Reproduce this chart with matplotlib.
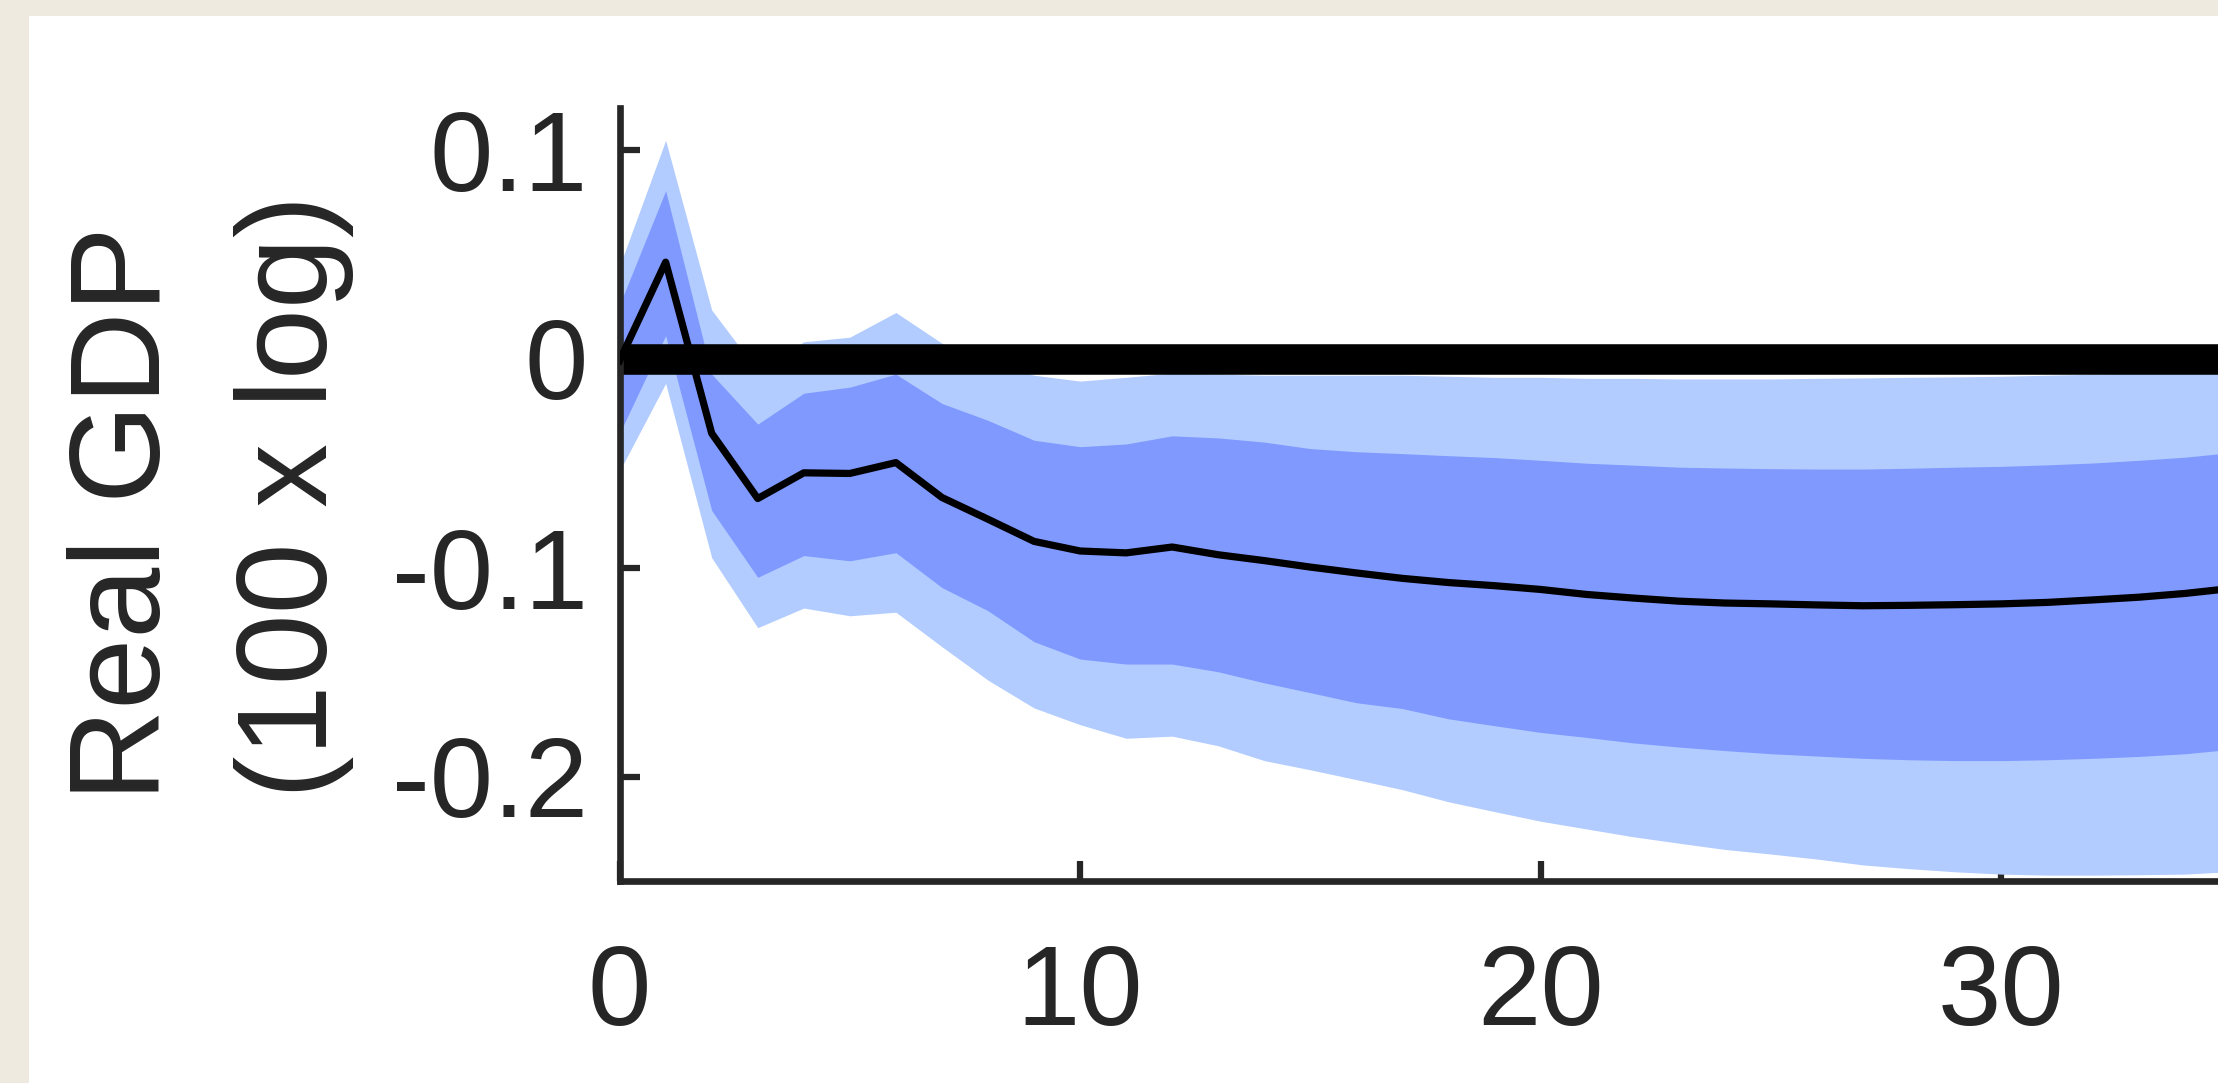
import matplotlib
matplotlib.use("Agg")
import matplotlib.pyplot as plt
from matplotlib.patches import Rectangle

# ---------------- data ----------------
horizon = list(range(36))
median = [-0.001, 0.0461, -0.0358, -0.067, -0.0547, -0.055, -0.0498, -0.0665, -0.0769, -0.0875,
          -0.0921, -0.093, -0.0902, -0.0939, -0.0967, -0.0998, -0.1026, -0.1052, -0.1072, -0.1087,
          -0.1105, -0.1129, -0.1146, -0.1161, -0.117, -0.1174, -0.1179, -0.1183, -0.1181, -0.1178,
          -0.1174, -0.1167, -0.1155, -0.1142, -0.1124, -0.1100]
upper_inner = [0.0257, 0.0803, -0.0075, -0.0314, -0.0166, -0.0137, -0.0075, -0.0215, -0.0296, -0.0391,
               -0.0422, -0.0409, -0.037, -0.038, -0.040, -0.0431, -0.0446, -0.0455, -0.0465, -0.0474,
               -0.0487, -0.0501, -0.051, -0.052, -0.0524, -0.0527, -0.0529, -0.0529, -0.0525, -0.052,
               -0.0516, -0.0509, -0.050, -0.0487, -0.0472, -0.045]
lower_inner = [-0.0358, 0.0109, -0.0727, -0.1047, -0.0943, -0.0968, -0.0929, -0.1096, -0.1207, -0.1355,
               -0.1438, -0.1462, -0.1462, -0.1499, -0.1552, -0.1599, -0.1647, -0.1675, -0.1724, -0.1757,
               -0.1789, -0.1813, -0.1839, -0.1859, -0.1876, -0.1891, -0.1902, -0.1913, -0.192, -0.1924,
               -0.1924, -0.192, -0.1913, -0.1904, -0.1891, -0.187]
upper_outer = [0.0442, 0.1044, 0.0232, -0.006, 0.008, 0.0102, 0.022, 0.0073, -0.002, -0.008,
               -0.0108, -0.009, -0.007, -0.0075, -0.008, -0.008, -0.008, -0.008, -0.0085, -0.009,
               -0.009, -0.0095, -0.0095, -0.0098, -0.0098, -0.0098, -0.0095, -0.0093, -0.009, -0.0088,
               -0.0085, -0.008, -0.0075, -0.007, -0.0065, -0.006]
lower_outer = [-0.0538, -0.0119, -0.0953, -0.1288, -0.1194, -0.1231, -0.1214, -0.1379, -0.1539, -0.1672,
               -0.1752, -0.1817, -0.1807, -0.1853, -0.1924, -0.1968, -0.2015, -0.2063, -0.2121, -0.2168,
               -0.2214, -0.2251, -0.2288, -0.2319, -0.2349, -0.2371, -0.2395, -0.2423, -0.2441, -0.2456,
               -0.2467, -0.2472, -0.2472, -0.247, -0.2467, -0.2455]

xticks = [0, 10, 20, 30]
xticklabels = ["0", "10", "20", "30"]
yticks = [-0.2, -0.1, 0, 0.1]
yticklabels = ["-0.2", "-0.1", "0", "0.1"]
ylabel_line1 = "Real GDP"
ylabel_line2 = "(100 x log)"

# ---------------- style ----------------
W, H = 2218, 1083
FONT = ["Liberation Sans", "DejaVu Sans"]
TXT = "#262626"
LIGHT = "#B2CCFF"
DARK = "#8099FF"

fig = plt.figure(figsize=(W / 100, H / 100), dpi=100)
fig.patch.set_facecolor("#EEEAE0")
fig.add_artist(Rectangle((29 / W, 0), 1, 1 - 16 / H, transform=fig.transFigure,
                         facecolor="white", edgecolor="none", zorder=-5))

x0 = 619.6
ppu = 46.05
y_bottom = 881.0
y_top = 107.7
ax = fig.add_axes([x0 / W, (H - y_bottom) / H, 40 * ppu / W, (y_bottom - y_top) / H])
ax.set_facecolor("none")

ax.fill_between(horizon, lower_outer, upper_outer, color=LIGHT, lw=0, zorder=1)
ax.fill_between(horizon, lower_inner, upper_inner, color=DARK, lw=0, zorder=1.1)
ax.axhline(0, color="black", lw=22, zorder=2, solid_capstyle="butt")
ax.plot(horizon, median, color="black", lw=5.2, zorder=3)

ax.set_xlim(0, 40)
ax.set_ylim(-0.25, 0.12)
ax.set_axisbelow(True)

for s in ("top", "right"):
    ax.spines[s].set_visible(False)
for s in ("left", "bottom"):
    ax.spines[s].set_linewidth(4.8)
    ax.spines[s].set_color(TXT)

ax.set_xticks(xticks)
ax.set_xticklabels(xticklabels)
ax.set_yticks(yticks)
ax.set_yticklabels(yticklabels)
ax.tick_params(axis="both", direction="in", length=14.4, width=4.5, color=TXT,
               labelcolor=TXT, labelsize=82)
ax.tick_params(axis="x", pad=45)
ax.tick_params(axis="y", pad=23)
for lab in ax.get_xticklabels() + ax.get_yticklabels():
    lab.set_fontfamily(FONT)

cy = (H - (y_bottom + y_top) / 2) / H
fig.text(127 / W, cy - 0.018, ylabel_line1, rotation=90, ha="center", va="center",
         fontsize=92, color=TXT, family=FONT)
fig.text(294 / W, cy - 0.002, ylabel_line2, rotation=90, ha="center", va="center",
         fontsize=92, color=TXT, family=FONT)

fig.savefig("out.png", dpi=100, facecolor=fig.get_facecolor())
